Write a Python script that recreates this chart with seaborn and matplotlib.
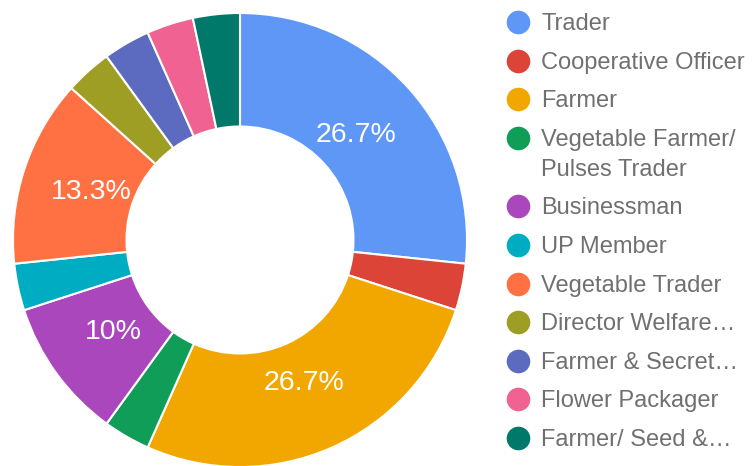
import numpy as np
import matplotlib
matplotlib.use("Agg")
import matplotlib.pyplot as plt
import seaborn as sns
from matplotlib.lines import Line2D

sns.set_theme(style="white")
plt.rcParams["font.family"] = ["Liberation Sans", "DejaVu Sans"]

# data
labels = ["Trader", "Cooperative Officer", "Farmer", "Vegetable Farmer/\nPulses Trader",
          "Businessman", "UP Member", "Vegetable Trader", "Director Welfare\u2026",
          "Farmer & Secret\u2026", "Flower Packager", "Farmer/ Seed &\u2026"]
counts = [8, 1, 8, 1, 3, 1, 4, 1, 1, 1, 1]
colors = ["#5e97f6", "#db4437", "#f2a600", "#0f9d58", "#ab47bc", "#00acc1",
          "#ff7043", "#9e9d24", "#5c6bc0", "#f06292", "#00796b"]

W, H = 752, 466
fig = plt.figure(figsize=(W / 100, H / 100), dpi=100)

# pie axes: centre (240, 240) px from top, radius ~227 px
cx, cy, r = 240, 240, 227
ax = fig.add_axes([(cx - r) / W, (H - cy - r) / H, 2 * r / W, 2 * r / H])


def fmt(p):
    if p < 5:
        return ""
    s = f"{p:.1f}"
    if s.endswith(".0"):
        s = s[:-2]
    return s + "%"


wedges, _, autotexts = ax.pie(
    counts, colors=colors, startangle=90, counterclock=False,
    radius=1, autopct=fmt, pctdistance=0.69,
    wedgeprops=dict(width=0.5, edgecolor="white", linewidth=1.5),
    textprops=dict(color="white", fontsize=20.5),
)
ax.set_xlim(-1, 1)
ax.set_ylim(-1, 1)
ax.set_aspect("auto")
ax.axis("off")

# legend drawn manually on the right
text_color = "#707070"
mx, tx = 518, 541
y = 22
for lab, col in zip(labels, colors):
    fig.add_artist(Line2D([mx / W], [(H - y) / H], marker="o", markersize=17,
                          color=col, markeredgewidth=0, transform=fig.transFigure))
    lines = lab.split("\n")
    for k, line in enumerate(lines):
        fig.text(tx / W, (H - y - 30 * k - 2) / H, line, fontsize=17, color=text_color,
                 va="center", ha="left")
    y += 38.6 + 30 * (len(lines) - 1)

fig.savefig("out.png", dpi=100)
